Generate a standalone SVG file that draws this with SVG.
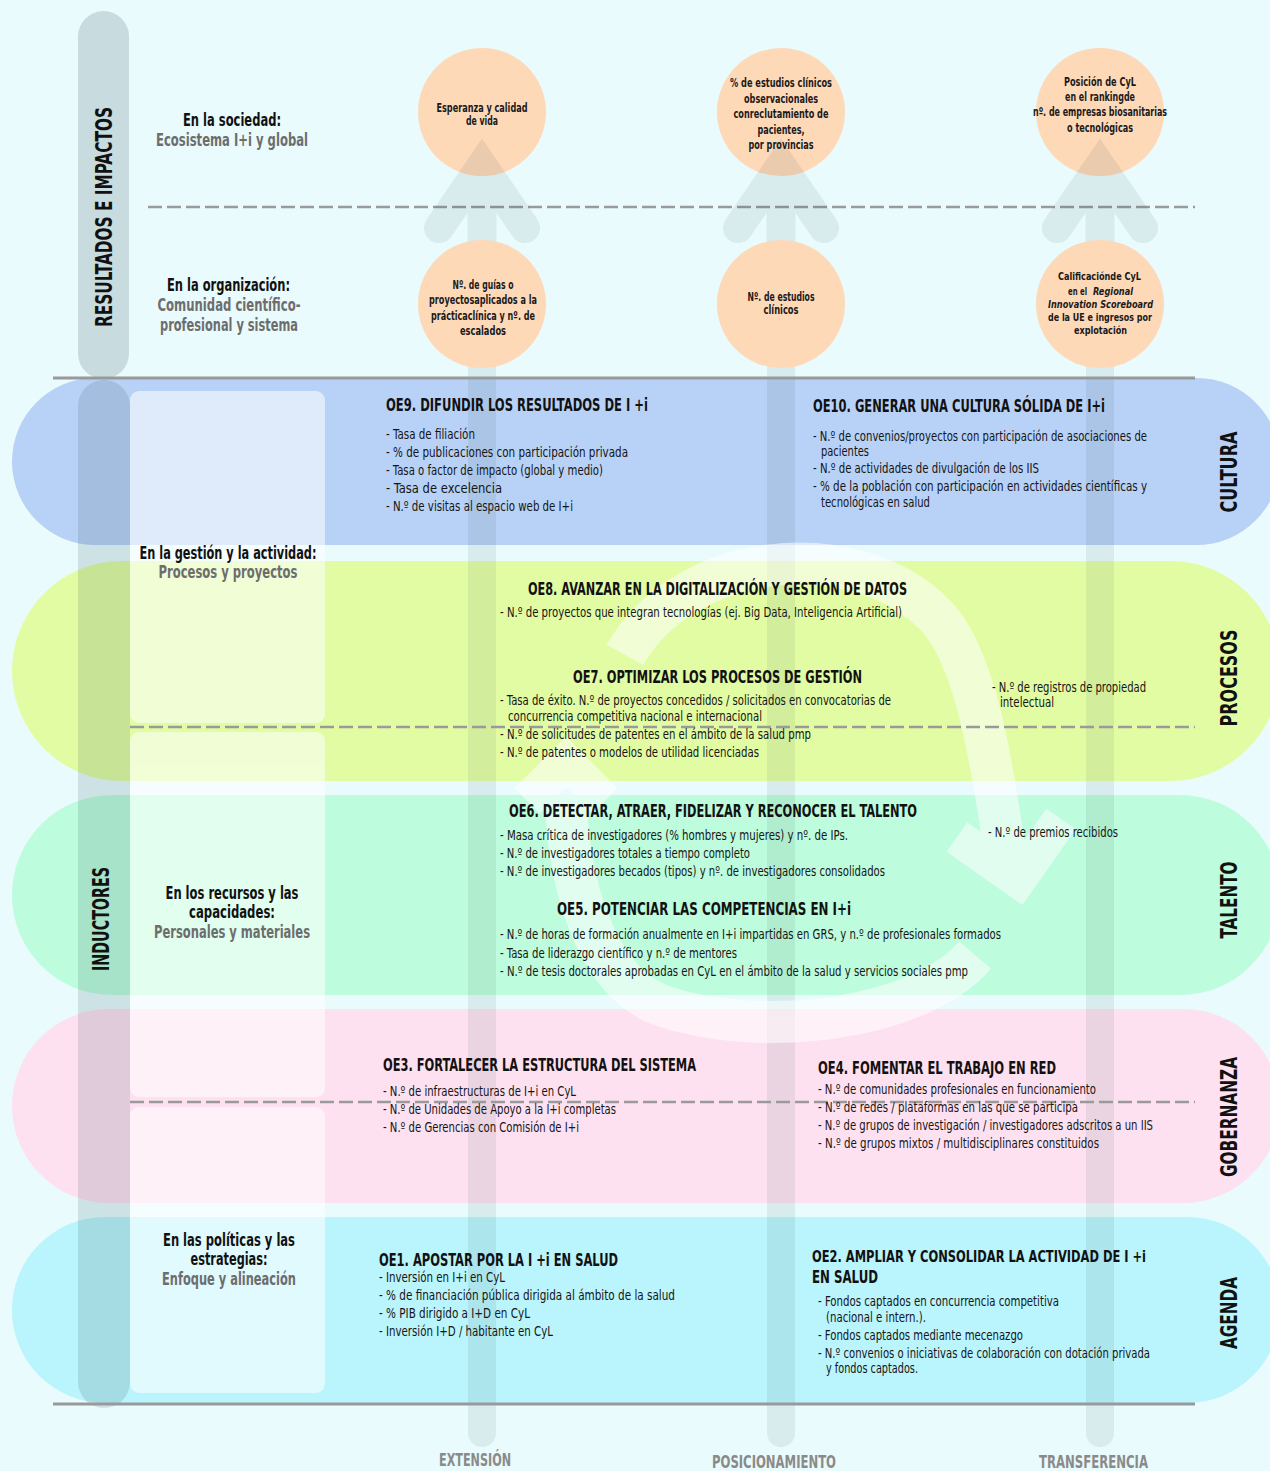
<svg xmlns="http://www.w3.org/2000/svg" width="1270" height="1471" viewBox="0 0 1270 1471">
<style>
text{font-family:"Liberation Sans Narrow","DejaVu Sans Condensed","Roboto Condensed","Liberation Sans",Arial,sans-serif;}
.t{font-weight:bold;font-size:18px;fill:#111;}
.i{font-size:14px;fill:#151515;}
.c{font-weight:bold;font-size:12.5px;fill:#1a1a1a;text-anchor:middle;}
.cs{font-weight:bold;font-size:11px;fill:#1a1a1a;}
.ci{font-weight:bold;font-style:italic;font-size:11px;fill:#1a1a1a;}
.lb{font-weight:bold;font-size:18px;fill:#111;text-anchor:middle;}
.lg{font-weight:bold;font-size:18px;fill:#6d6d6d;text-anchor:middle;}
.v{font-weight:bold;font-size:23px;fill:#111;text-anchor:middle;}
.b{font-weight:bold;font-size:17px;fill:#8a8a8a;text-anchor:middle;}
.dash{stroke:#9a9a9a;stroke-width:2.5;stroke-dasharray:14 5;fill:none;}
.solid{stroke:#999;stroke-width:3;fill:none;}
.circ{fill:#fed9b8;}
</style>
<rect x="0" y="0" width="1270" height="1471" fill="#e9fbfd"/>
<rect id="pill-top" x="78" y="11" width="51" height="368" rx="25.5" fill="#c8dcdf"/>
<g id="bands">
<rect id="band-cultura" x="12" y="378" width="1268" height="167" rx="83.5" fill="#b8d1f6"/>
<rect id="band-procesos" x="12" y="561" width="1268" height="220" rx="110" fill="#e2fca3"/>
<rect id="band-talento" x="12" y="795" width="1268" height="200" rx="100" fill="#bdfcdc"/>
<rect id="band-gobernanza" x="12" y="1009" width="1268" height="194" rx="97" fill="#fde1f0"/>
<rect id="band-agenda" x="12" y="1217" width="1268" height="186" rx="93" fill="#baf4fc"/>
</g>
<g id="label-column" fill="#ffffff" opacity="0.55">
<rect x="130" y="391" width="195" height="332" rx="9"/>
<rect x="130" y="732" width="195" height="365" rx="9"/>
<rect x="130" y="1107" width="195" height="286" rx="9"/>
</g>
<rect id="pill-inductores" x="78" y="380" width="52" height="1028" rx="26" fill="#1a3a44" opacity="0.13"/>
<g id="columns" fill="#1a3a44" opacity="0.08">
<rect x="468" y="300" width="28" height="1147" rx="14"/>
<rect x="767" y="300" width="28" height="1147" rx="14"/>
<rect x="1086" y="300" width="28" height="1147" rx="14"/>
</g>
<g id="connectors">
<g id="cycle" opacity="0.55" stroke="#ffffff" fill="none" stroke-width="42">
<path d="M625,655 C680,555 850,530 935,615 C975,655 992,760 1006,860"/>
<polyline points="957,837 1018,880 1061,819" stroke-width="36" stroke-linejoin="miter"/>
<path d="M975,955 C920,1020 760,1040 660,1005 C595,980 567,880 566,795"/>
<polyline points="605,801 566,762 527,801" stroke-width="36" stroke-linejoin="miter"/>
</g>
<line class="dash" x1="148" y1="207" x2="1195" y2="207"/>
<line class="dash" x1="130" y1="727" x2="1195" y2="727"/>
<line class="dash" x1="130" y1="1102" x2="1195" y2="1102"/>
<line class="solid" x1="53" y1="378" x2="1195" y2="378"/>
<line class="solid" x1="53" y1="1404" x2="1195" y2="1404"/>
</g>
<g id="top-circles">
<circle class="circ" cx="482" cy="112" r="64"/>
<circle class="circ" cx="781" cy="112" r="64"/>
<circle class="circ" cx="1100" cy="112" r="64"/>
</g>
<g id="up-arrows" opacity="0.08" stroke="#1a3a44" fill="none">
<polyline points="439,228 482,165 525,228" stroke-width="30" stroke-linecap="round" stroke-linejoin="miter"/>
<line x1="482" y1="170" x2="482" y2="250" stroke-width="29"/>
<polyline points="738,228 781,165 824,228" stroke-width="30" stroke-linecap="round" stroke-linejoin="miter"/>
<line x1="781" y1="170" x2="781" y2="250" stroke-width="29"/>
<polyline points="1057,228 1100,165 1143,228" stroke-width="30" stroke-linecap="round" stroke-linejoin="miter"/>
<line x1="1100" y1="170" x2="1100" y2="250" stroke-width="29"/>
</g>
<g id="bottom-circles">
<circle class="circ" cx="482" cy="304" r="64"/>
<circle class="circ" cx="781" cy="304" r="64"/>
<circle class="circ" cx="1100" cy="304" r="64"/>
</g>
<g id="circle-texts">
<g id="c-esperanza">
<text class="c" x="482" y="112" textLength="91" lengthAdjust="spacingAndGlyphs">Esperanza y calidad</text>
<text class="c" x="482" y="125" textLength="32" lengthAdjust="spacingAndGlyphs">de vida</text>
</g>
<g id="c-estudios-obs">
<text class="c" x="781" y="87" textLength="102" lengthAdjust="spacingAndGlyphs">% de estudios clínicos</text>
<text class="c" x="781" y="103" textLength="74" lengthAdjust="spacingAndGlyphs">observacionales</text>
<text class="c" x="781" y="118" textLength="95" lengthAdjust="spacingAndGlyphs">conreclutamiento de</text>
<text class="c" x="781" y="134" textLength="47" lengthAdjust="spacingAndGlyphs">pacientes,</text>
<text class="c" x="781" y="149" textLength="65" lengthAdjust="spacingAndGlyphs">por provincias</text>
</g>
<g id="c-posicion">
<text class="c" x="1100" y="86" textLength="72" lengthAdjust="spacingAndGlyphs">Posición de CyL</text>
<text class="c" x="1100" y="101" textLength="70" lengthAdjust="spacingAndGlyphs">en el rankingde</text>
<text class="c" x="1100" y="116" textLength="134" lengthAdjust="spacingAndGlyphs">nº. de empresas biosanitarias</text>
<text class="c" x="1100" y="132" textLength="66" lengthAdjust="spacingAndGlyphs">o tecnológicas</text>
</g>
<g id="c-guias">
<text class="c" x="483" y="289" textLength="61" lengthAdjust="spacingAndGlyphs">Nº. de guías o</text>
<text class="c" x="483" y="304" textLength="108" lengthAdjust="spacingAndGlyphs">proyectosaplicados a la</text>
<text class="c" x="483" y="320" textLength="104" lengthAdjust="spacingAndGlyphs">prácticaclínica y nº. de</text>
<text class="c" x="483" y="335" textLength="46" lengthAdjust="spacingAndGlyphs">escalados</text>
</g>
<g id="c-estudios">
<text class="c" x="781" y="301" textLength="67" lengthAdjust="spacingAndGlyphs">Nº. de estudios</text>
<text class="c" x="781" y="314" textLength="35" lengthAdjust="spacingAndGlyphs">clínicos</text>
</g>
<g id="c-calificacion">
<text class="cs" x="1058" y="280" textLength="83" lengthAdjust="spacingAndGlyphs">Calificaciónde CyL</text>
<text class="cs" x="1068" y="295" textLength="19" lengthAdjust="spacingAndGlyphs">en el</text>
<text class="ci" x="1093" y="295" textLength="40" lengthAdjust="spacingAndGlyphs">Regional</text>
<text class="ci" x="1048" y="308" textLength="105" lengthAdjust="spacingAndGlyphs">Innovation Scoreboard</text>
<text class="cs" x="1048" y="321" textLength="104" lengthAdjust="spacingAndGlyphs">de la UE e ingresos por</text>
<text class="cs" x="1074" y="334" textLength="53" lengthAdjust="spacingAndGlyphs">explotación</text>
</g>
</g>
<g id="side-labels">
<text class="v" transform="translate(112,217) rotate(-90)" textLength="220" lengthAdjust="spacingAndGlyphs">RESULTADOS E IMPACTOS</text>
<text class="v" transform="translate(109,919) rotate(-90)" textLength="104" lengthAdjust="spacingAndGlyphs">INDUCTORES</text>
<text class="v" transform="translate(1237,472) rotate(-90)" textLength="81" lengthAdjust="spacingAndGlyphs">CULTURA</text>
<text class="v" transform="translate(1237,678) rotate(-90)" textLength="97" lengthAdjust="spacingAndGlyphs">PROCESOS</text>
<text class="v" transform="translate(1237,900) rotate(-90)" textLength="77" lengthAdjust="spacingAndGlyphs">TALENTO</text>
<text class="v" transform="translate(1237,1117) rotate(-90)" textLength="120" lengthAdjust="spacingAndGlyphs">GOBERNANZA</text>
<text class="v" transform="translate(1237,1313) rotate(-90)" textLength="72" lengthAdjust="spacingAndGlyphs">AGENDA</text>
</g>
<g id="row-labels">
<text class="lb" x="232" y="126" textLength="98" lengthAdjust="spacingAndGlyphs">En la sociedad:</text>
<text class="lg" x="232" y="146" textLength="152" lengthAdjust="spacingAndGlyphs">Ecosistema I+i y global</text>
<text class="lb" x="228.5" y="291" textLength="123" lengthAdjust="spacingAndGlyphs">En la organización:</text>
<text class="lg" x="229" y="311" textLength="143" lengthAdjust="spacingAndGlyphs">Comunidad científico-</text>
<text class="lg" x="229" y="331" textLength="138" lengthAdjust="spacingAndGlyphs">profesional y sistema</text>
<text class="lb" x="228" y="559" textLength="177" lengthAdjust="spacingAndGlyphs">En la gestión y la actividad:</text>
<text class="lg" x="228" y="578" textLength="139" lengthAdjust="spacingAndGlyphs">Procesos y proyectos</text>
<text class="lb" x="232" y="899" textLength="133" lengthAdjust="spacingAndGlyphs">En los recursos y las</text>
<text class="lb" x="232" y="918" textLength="86" lengthAdjust="spacingAndGlyphs">capacidades:</text>
<text class="lg" x="232" y="938" textLength="156" lengthAdjust="spacingAndGlyphs">Personales y materiales</text>
<text class="lb" x="229" y="1246" textLength="132" lengthAdjust="spacingAndGlyphs">En las políticas y las</text>
<text class="lb" x="229" y="1265" textLength="77" lengthAdjust="spacingAndGlyphs">estrategias:</text>
<text class="lg" x="229" y="1285" textLength="134" lengthAdjust="spacingAndGlyphs">Enfoque y alineación</text>
</g>
<g id="oe9">
<text class="t" x="386" y="411" textLength="262" lengthAdjust="spacingAndGlyphs">OE9. DIFUNDIR LOS RESULTADOS DE I +i</text>
<text class="i" x="386" y="439" textLength="89" lengthAdjust="spacingAndGlyphs">- Tasa de filiación</text>
<text class="i" x="386" y="457" textLength="242" lengthAdjust="spacingAndGlyphs">- % de publicaciones con participación privada</text>
<text class="i" x="386" y="475" textLength="217" lengthAdjust="spacingAndGlyphs">- Tasa o factor de impacto (global y medio)</text>
<text class="i" x="386" y="493" textLength="116" lengthAdjust="spacingAndGlyphs">- Tasa de excelencia</text>
<text class="i" x="386" y="511" textLength="187" lengthAdjust="spacingAndGlyphs">- N.º de visitas al espacio web de I+i</text>
</g>
<g id="oe10">
<text class="t" x="813" y="412" textLength="292" lengthAdjust="spacingAndGlyphs">OE10. GENERAR UNA CULTURA SÓLIDA DE I+i</text>
<text class="i" x="813" y="441" textLength="334" lengthAdjust="spacingAndGlyphs">- N.º de convenios/proyectos con participación de asociaciones de</text>
<text class="i" x="821" y="456" textLength="48" lengthAdjust="spacingAndGlyphs">pacientes</text>
<text class="i" x="813" y="473" textLength="226" lengthAdjust="spacingAndGlyphs">- N.º de actividades de divulgación de los IIS</text>
<text class="i" x="813" y="491" textLength="334" lengthAdjust="spacingAndGlyphs">- % de la población con participación en actividades científicas y</text>
<text class="i" x="821" y="507" textLength="109" lengthAdjust="spacingAndGlyphs">tecnológicas en salud</text>
</g>
<g id="oe8">
<text class="t" x="528" y="595" textLength="379" lengthAdjust="spacingAndGlyphs">OE8. AVANZAR EN LA DIGITALIZACIÓN Y GESTIÓN DE DATOS</text>
<text class="i" x="500" y="617" textLength="402" lengthAdjust="spacingAndGlyphs">- N.º de proyectos que integran tecnologías (ej. Big Data, Inteligencia Artificial)</text>
</g>
<g id="oe7">
<text class="t" x="573" y="683" textLength="289" lengthAdjust="spacingAndGlyphs">OE7. OPTIMIZAR LOS PROCESOS DE GESTIÓN</text>
<text class="i" x="500" y="705" textLength="391" lengthAdjust="spacingAndGlyphs">- Tasa de éxito. N.º de proyectos concedidos / solicitados en convocatorias de</text>
<text class="i" x="508" y="721" textLength="254" lengthAdjust="spacingAndGlyphs">concurrencia competitiva nacional e internacional</text>
<text class="i" x="500" y="739" textLength="311" lengthAdjust="spacingAndGlyphs">- N.º de solicitudes de patentes en el ámbito de la salud pmp</text>
<text class="i" x="500" y="757" textLength="259" lengthAdjust="spacingAndGlyphs">- N.º de patentes o modelos de utilidad licenciadas</text>
<text class="i" x="992" y="692" textLength="154" lengthAdjust="spacingAndGlyphs">- N.º de registros de propiedad</text>
<text class="i" x="1000" y="707" textLength="54" lengthAdjust="spacingAndGlyphs">intelectual</text>
</g>
<g id="oe6">
<text class="t" x="509" y="817" textLength="408" lengthAdjust="spacingAndGlyphs">OE6. DETECTAR, ATRAER, FIDELIZAR Y RECONOCER EL TALENTO</text>
<text class="i" x="500" y="840" textLength="348" lengthAdjust="spacingAndGlyphs">- Masa crítica de investigadores (% hombres y mujeres) y nº. de IPs.</text>
<text class="i" x="500" y="858" textLength="250" lengthAdjust="spacingAndGlyphs">- N.º de investigadores totales a tiempo completo</text>
<text class="i" x="500" y="876" textLength="385" lengthAdjust="spacingAndGlyphs">- N.º de investigadores becados (tipos) y nº. de investigadores consolidados</text>
<text class="i" x="988" y="837" textLength="130" lengthAdjust="spacingAndGlyphs">- N.º de premios recibidos</text>
</g>
<g id="oe5">
<text class="t" x="557" y="915" textLength="294" lengthAdjust="spacingAndGlyphs">OE5. POTENCIAR LAS COMPETENCIAS EN I+i</text>
<text class="i" x="500" y="939" textLength="501" lengthAdjust="spacingAndGlyphs">- N.º de horas de formación anualmente en I+i impartidas en GRS, y n.º de profesionales formados</text>
<text class="i" x="500" y="958" textLength="237" lengthAdjust="spacingAndGlyphs">- Tasa de liderazgo científico y n.º de mentores</text>
<text class="i" x="500" y="976" textLength="468" lengthAdjust="spacingAndGlyphs">- N.º de tesis doctorales aprobadas en CyL en el ámbito de la salud y servicios sociales pmp</text>
</g>
<g id="oe3">
<text class="t" x="383" y="1071" textLength="313" lengthAdjust="spacingAndGlyphs">OE3. FORTALECER LA ESTRUCTURA DEL SISTEMA</text>
<text class="i" x="383" y="1096" textLength="193" lengthAdjust="spacingAndGlyphs">- N.º de infraestructuras de I+i en CyL</text>
<text class="i" x="383" y="1114" textLength="233" lengthAdjust="spacingAndGlyphs">- N.º de Unidades de Apoyo a la I+i completas</text>
<text class="i" x="383" y="1132" textLength="196" lengthAdjust="spacingAndGlyphs">- N.º de Gerencias con Comisión de I+i</text>
</g>
<g id="oe4">
<text class="t" x="818" y="1074" textLength="238" lengthAdjust="spacingAndGlyphs">OE4. FOMENTAR EL TRABAJO EN RED</text>
<text class="i" x="818" y="1094" textLength="278" lengthAdjust="spacingAndGlyphs">- N.º de comunidades profesionales en funcionamiento</text>
<text class="i" x="818" y="1112" textLength="260" lengthAdjust="spacingAndGlyphs">- N.º de redes / plataformas en las que se participa</text>
<text class="i" x="818" y="1130" textLength="335" lengthAdjust="spacingAndGlyphs">- N.º de grupos de investigación / investigadores adscritos a un IIS</text>
<text class="i" x="818" y="1148" textLength="281" lengthAdjust="spacingAndGlyphs">- N.º de grupos mixtos / multidisciplinares constituidos</text>
</g>
<g id="oe1">
<text class="t" x="379" y="1266" textLength="239" lengthAdjust="spacingAndGlyphs">OE1. APOSTAR POR LA I +i EN SALUD</text>
<text class="i" x="379" y="1282" textLength="126" lengthAdjust="spacingAndGlyphs">- Inversión en I+i en CyL</text>
<text class="i" x="379" y="1300" textLength="296" lengthAdjust="spacingAndGlyphs">- % de financiación pública dirigida al ámbito de la salud</text>
<text class="i" x="379" y="1318" textLength="151" lengthAdjust="spacingAndGlyphs">- % PIB dirigido a I+D en CyL</text>
<text class="i" x="379" y="1336" textLength="174" lengthAdjust="spacingAndGlyphs">- Inversión I+D / habitante en CyL</text>
</g>
<g id="oe2">
<text class="t" x="812" y="1262" style="font-size:16.5px" textLength="334" lengthAdjust="spacingAndGlyphs">OE2. AMPLIAR Y CONSOLIDAR LA ACTIVIDAD DE I +i</text>
<text class="t" x="812" y="1283" textLength="66" lengthAdjust="spacingAndGlyphs">EN SALUD</text>
<text class="i" x="818" y="1306" textLength="241" lengthAdjust="spacingAndGlyphs">- Fondos captados en concurrencia competitiva</text>
<text class="i" x="826" y="1322" textLength="100" lengthAdjust="spacingAndGlyphs">(nacional e intern.).</text>
<text class="i" x="818" y="1340" textLength="205" lengthAdjust="spacingAndGlyphs">- Fondos captados mediante mecenazgo</text>
<text class="i" x="818" y="1358" textLength="332" lengthAdjust="spacingAndGlyphs">- N.º convenios o iniciativas de colaboración con dotación privada</text>
<text class="i" x="826" y="1373" textLength="92" lengthAdjust="spacingAndGlyphs">y fondos captados.</text>
</g>
<g id="axis-labels">
<text class="b" x="475" y="1466" textLength="72" lengthAdjust="spacingAndGlyphs">EXTENSIÓN</text>
<text class="b" x="774" y="1468" textLength="124" lengthAdjust="spacingAndGlyphs">POSICIONAMIENTO</text>
<text class="b" x="1093.5" y="1468" textLength="109" lengthAdjust="spacingAndGlyphs">TRANSFERENCIA</text>
</g>
</svg>
